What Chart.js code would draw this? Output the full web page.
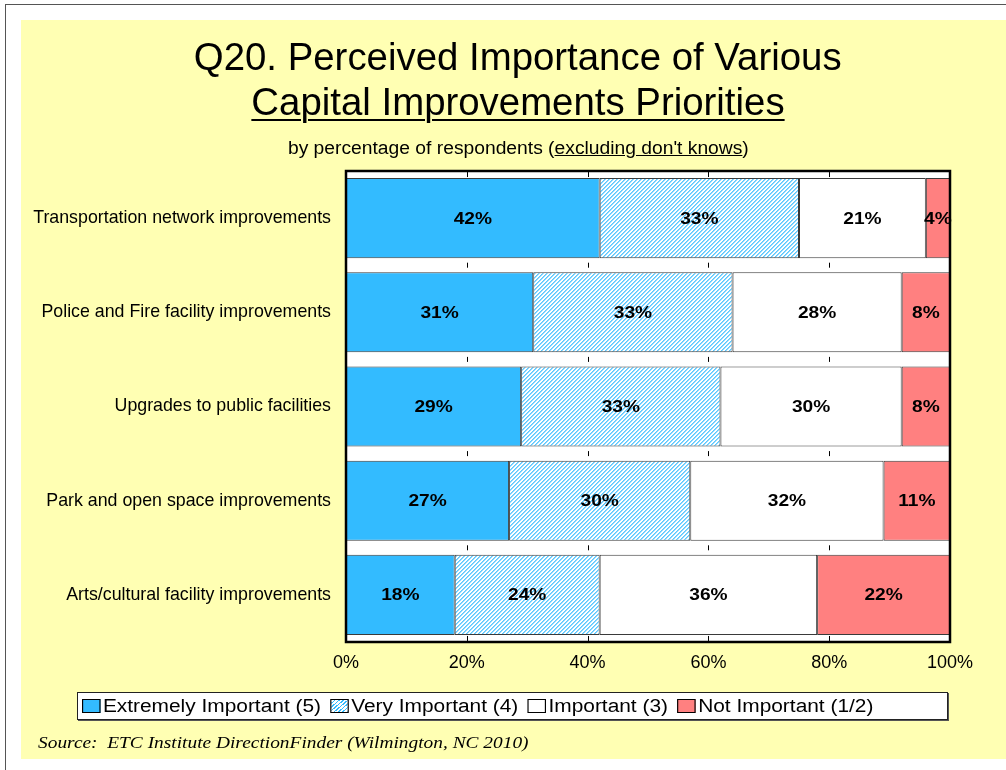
<!DOCTYPE html>
<html>
<head>
<meta charset="utf-8">
<title>Capital Improvements Priorities</title>
<script src="https://cdn.jsdelivr.net/npm/chart.js@4"></script>
<style>
  body { margin: 0; background: #fff; font-family: "Liberation Sans", Arial, sans-serif; }
  #frame { position: absolute; left: 5px; top: 4px; width: 1100px; height: 900px; border: 1px solid #555; }
  #panel { position: absolute; left: 21px; top: 20px; width: 1100px; height: 739px; background: #ffffb3; }
  #chart { position: absolute; left: 0; top: 0; }
  .title { position: absolute; left: 18px; width: 1000px; text-align: center; color: #000; }
  .title span.w { display: inline-block; }
  #t1 { top: 35px; font-size: 38px; line-height: 45px; }
  #t1 .w { transform: scaleX(1.01); }
  #t2 { top: 80px; font-size: 38px; line-height: 45px; }
  #t2 .w { transform: scaleX(1.01); }
  #t2 u { text-decoration-thickness: 2px; text-underline-offset: 4px; }
  #sub { top: 137px; font-size: 18px; line-height: 22px; }
  #sub .w { transform: scaleX(1.07); }
  #legend { position: absolute; left: 77px; top: 692px; width: 871px; height: 28px; background: #fff;
            border: 1px solid #222; box-shadow: 1px 1px 0 #555; box-sizing: border-box; }
  #legendRow { position: absolute; left: 4px; top: 0; height: 26px; display: flex; align-items: center;
               font-size: 18px; transform: scaleX(1.16); transform-origin: left center; }
  .item { display: flex; align-items: center; margin-right: 8px; white-space: nowrap; }
  .swatch { width: 14px; height: 12px; border: 1px solid #000; margin-right: 2px; }
  #source { position: absolute; left: 38px; top: 733px; font-family: "Liberation Serif", "Times New Roman", serif;
            font-style: italic; font-size: 17px; white-space: pre; transform: scaleX(1.14); transform-origin: left center; }
</style>
</head>
<body>
<div id="frame"></div>
<div id="panel"></div>
<canvas id="chart" width="1006" height="770"></canvas>
<div class="title" id="t1"><span class="w">Q20. Perceived Importance of Various</span></div>
<div class="title" id="t2"><span class="w"><u>Capital Improvements Priorities</u></span></div>
<div class="title" id="sub"><span class="w">by percentage of respondents (<u>excluding don't knows</u>)</span></div>
<div id="legend"><div id="legendRow"></div></div>
<div id="source">Source:  ETC Institute DirectionFinder (Wilmington, NC 2010)</div>
<script>
const categories = [
  "Transportation network improvements",
  "Police and Fire facility improvements",
  "Upgrades to public facilities",
  "Park and open space improvements",
  "Arts/cultural facility improvements"
];
const seriesNames = ["Extremely Important (5)", "Very Important (4)", "Important (3)", "Not Important (1/2)"];
const extremelyImportant = [42, 31, 29, 27, 18];
const veryImportant = [33, 33, 33, 30, 24];
const important = [21, 28, 30, 32, 36];
const notImportant = [4, 8, 8, 11, 22];

const blue = "#33bbff";
const pink = "#ff8080";
const edge = "#3a3a3a";

// light diagonal blue hatch on white for the "very important" segments
function hatch() {
  const c = document.createElement("canvas");
  c.width = 4; c.height = 4;
  const g = c.getContext("2d");
  g.fillStyle = "#fff";
  g.fillRect(0, 0, 4, 4);
  for (let i = 0; i < 4; i++) {
    g.fillStyle = "#5cc8ff";
    g.fillRect(i, 3 - i, 1, 1);
    g.fillStyle = "#8fd9ff";
    g.fillRect(i, (4 - i) % 4, 1, 1);
  }
  return g.createPattern(c, "repeat");
}
const hatchFill = hatch();

const fills = [blue, hatchFill, "#ffffff", pink];
const legendCss = [blue, "repeating-linear-gradient(-45deg, #33bbff 0 1px, #fff 1px 2.6px)", "#fff", pink];

// legend built from the series list
const legendRow = document.getElementById("legendRow");
seriesNames.forEach((name, i) => {
  const item = document.createElement("div");
  item.className = "item";
  const sw = document.createElement("div");
  sw.className = "swatch";
  sw.style.background = legendCss[i];
  item.appendChild(sw);
  item.appendChild(document.createTextNode(name));
  legendRow.appendChild(item);
});

const plotBackground = {
  id: "plotBackground",
  beforeDraw(chart) {
    const { ctx, chartArea: a } = chart;
    ctx.save();
    ctx.fillStyle = "#fff";
    ctx.fillRect(a.left, a.top, a.width, a.height);
    ctx.restore();
  }
};

// short grid marks visible in the gaps between bars
const gapTicks = {
  id: "gapTicks",
  beforeDatasetsDraw(chart) {
    const { ctx, chartArea: a } = chart;
    const xs = chart.scales.x;
    const bars = chart.getDatasetMeta(0).data;
    const edges = [a.top];
    bars.forEach(b => { edges.push(b.y - b.height / 2); edges.push(b.y + b.height / 2); });
    edges.push(a.bottom);
    ctx.save();
    ctx.strokeStyle = "#000";
    ctx.lineWidth = 1;
    for (let k = 0; k < edges.length; k += 2) {
      const mid = (edges[k] + edges[k + 1]) / 2;
      [20, 40, 60, 80].forEach(v => {
        const x = Math.round(xs.getPixelForValue(v)) + 0.5;
        ctx.beginPath();
        ctx.moveTo(x, mid - 2.5);
        ctx.lineTo(x, mid + 2.5);
        ctx.stroke();
      });
    }
    ctx.restore();
  }
};

// bold percentage in the middle of every segment, slightly widened
const segmentLabels = {
  id: "segmentLabels",
  afterDatasetsDraw(chart) {
    const { ctx } = chart;
    ctx.save();
    ctx.font = "bold 16.5px 'Liberation Sans', Arial, sans-serif";
    ctx.fillStyle = "#000";
    ctx.textAlign = "center";
    ctx.textBaseline = "middle";
    chart.data.datasets.forEach((ds, di) => {
      chart.getDatasetMeta(di).data.forEach((bar, i) => {
        ctx.save();
        ctx.translate((bar.x + bar.base) / 2, bar.y + 1);
        ctx.scale(1.16, 1);
        ctx.fillText(ds.data[i] + "%", 0, 0);
        ctx.restore();
      });
    });
    ctx.restore();
  }
};

const plotBorder = {
  id: "plotBorder",
  afterDraw(chart) {
    const { ctx, chartArea: a } = chart;
    ctx.save();
    ctx.strokeStyle = "#000";
    ctx.lineWidth = 2.5;
    ctx.strokeRect(a.left, a.top, a.width, a.height);
    ctx.restore();
  }
};

const seriesData = [extremelyImportant, veryImportant, important, notImportant];

new Chart(document.getElementById("chart"), {
  type: "bar",
  data: {
    labels: categories,
    datasets: seriesNames.map((name, i) => ({
      label: name,
      data: seriesData[i],
      backgroundColor: fills[i],
      borderColor: edge,
      borderWidth: 1,
      borderSkipped: false,
      barPercentage: 0.85,
      categoryPercentage: 1
    }))
  },
  options: {
    indexAxis: "y",
    responsive: false,
    animation: false,
    layout: { padding: { top: 171, right: 56, bottom: 88, left: 0 } },
    plugins: { legend: { display: false }, tooltip: { enabled: false } },
    scales: {
      x: {
        stacked: true,
        min: 0,
        max: 100,
        grid: { display: false, drawTicks: false },
        border: { display: false },
        ticks: {
          stepSize: 20,
          padding: 10,
          color: "#000",
          font: { family: "'Liberation Sans', Arial, sans-serif", size: 18 },
          callback: v => v + "%"
        },
        afterFit(scale) { scale.height = 40; }
      },
      y: {
        stacked: true,
        grid: { display: false, drawTicks: false },
        border: { display: false },
        ticks: {
          padding: 15,
          color: "#000",
          font: { family: "'Liberation Sans', Arial, sans-serif", size: 17.8 }
        },
        afterFit(scale) { scale.width = 346; }
      }
    }
  },
  plugins: [plotBackground, gapTicks, segmentLabels, plotBorder]
});
</script>
</body>
</html>
